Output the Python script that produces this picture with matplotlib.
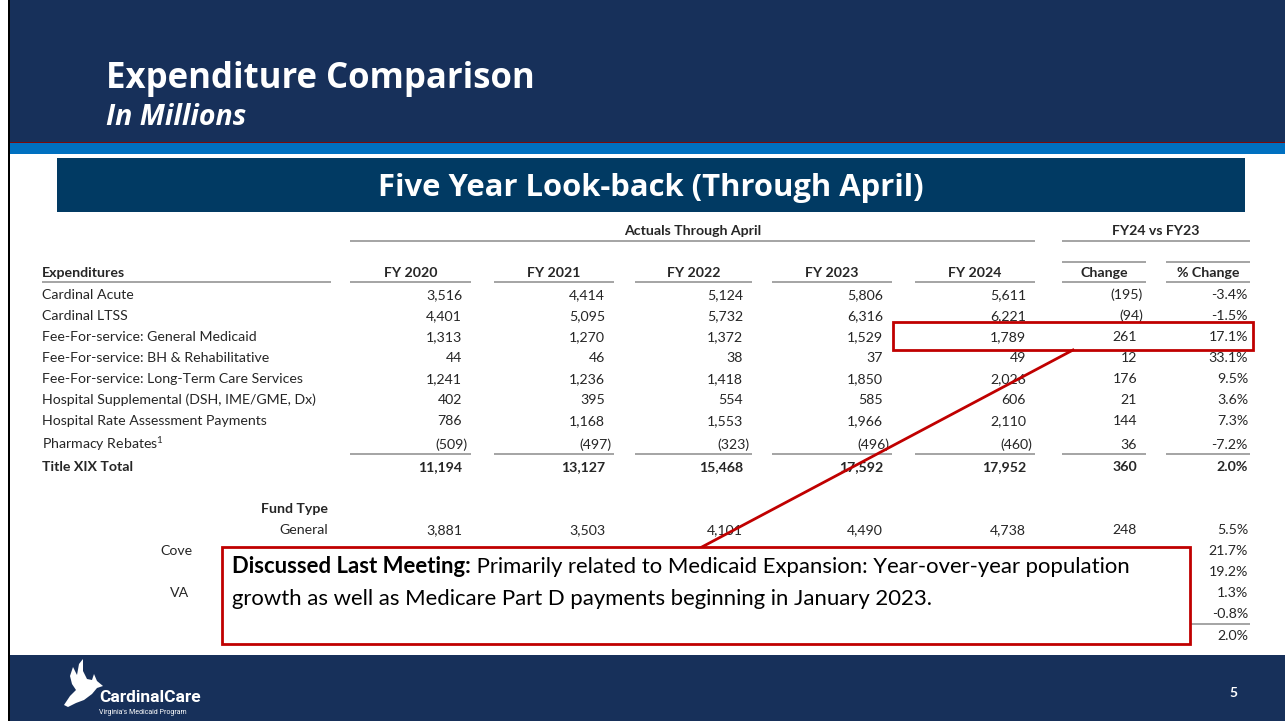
import matplotlib.pyplot as plt
from matplotlib.patches import Rectangle, Polygon

plt.rcParams['font.family'] = ['Lato', 'DejaVu Sans']
plt.rcParams['mathtext.fontset'] = 'custom'
plt.rcParams['mathtext.rm'] = 'Lato'

# ---- table data (millions) ----
categories = ['Cardinal Acute', 'Cardinal LTSS', 'Fee-For-service: General Medicaid',
              'Fee-For-service: BH & Rehabilitative', 'Fee-For-service: Long-Term Care Services',
              'Hospital Supplemental (DSH, IME/GME, Dx)', 'Hospital Rate Assessment Payments',
              'Pharmacy Rebates$^{1}$']
years = ['FY 2020', 'FY 2021', 'FY 2022', 'FY 2023', 'FY 2024']
fy2020 = [3516, 4401, 1313, 44, 1241, 402, 786, -509]
fy2021 = [4414, 5095, 1270, 46, 1236, 395, 1168, -497]
fy2022 = [5124, 5732, 1372, 38, 1418, 554, 1553, -323]
fy2023 = [5806, 6316, 1529, 37, 1850, 585, 1966, -496]
fy2024 = [5611, 6221, 1789, 49, 2026, 606, 2110, -460]
change = [-195, -94, 261, 12, 176, 21, 144, 36]
pct_change = [-3.4, -1.5, 17.1, 33.1, 9.5, 3.6, 7.3, -7.2]
totals = [11194, 13127, 15468, 17592, 17952]
total_change = 360
total_pct = 2.0

fund_general = [3881, 3503, 4101, 4490, 4738]
fund_general_change = 248
fund_pct = [5.5, 21.7, 19.2, 1.3, -0.8]
fund_total_pct = 2.0
# fund labels only partly visible behind the call-out
fund_partial_labels = ['Cove', 'VA']

NAVY = '#17305A'
BOX_NAVY = '#013A63'
RED = '#C00000'
GRAY = '#8C8C8C'
TXT = '#262626'
HEAD = ['Open Sans', 'DejaVu Sans']


def fmt_num(v):
    return f'({abs(v):,})' if v < 0 else f'{v:,}'


fig = plt.figure(figsize=(12.85, 7.21), dpi=100)
ax = fig.add_axes([0, 0, 1, 1])
ax.set_xlim(0, 1285)
ax.set_ylim(721, 0)
ax.axis('off')


def box(x, y, w, h, color, **kw):
    ax.add_patch(Rectangle((x, y), w, h, fc=color, ec='none', **kw))


# slide background, header and footer bands
box(0, 0, 1285, 721, 'white')
box(8, 0, 2, 721, 'black')
box(10, 0, 1275, 142, NAVY)
box(10, 142, 1275, 1.2, '#7A0A0A')
box(10, 143, 1275, 11, '#0070C0')
box(57, 158, 1188, 54, BOX_NAVY)
box(10, 655, 1275, 66, NAVY)

ax.text(106, 88, 'Expenditure Comparison', color='white', fontsize=25, fontweight='bold',
        family=HEAD, va='baseline')
ax.text(106, 125, 'In Millions', color='white', fontsize=20.5, fontweight='bold', style='italic',
        family=HEAD, va='baseline')
ax.text(651, 196, 'Five Year Look-back (Through April)', color='white', fontsize=22.3,
        fontweight='bold', family=HEAD, ha='center', va='baseline')

# ---- table ----
FS = 10.2
col_x0 = [350, 494, 635, 772, 915, 1062, 1166]
col_x1 = [471, 614, 752, 892, 1035, 1146, 1250]


def hline(x0, x1, y, lw=1.1):
    ax.plot([x0, x1], [y, y], color=GRAY, lw=lw, solid_capstyle='butt')


def num(col, y, v, bold=False):
    x = col_x1[col] - (3 if v < 0 else 9)
    ax.text(x, y, fmt_num(v), ha='right', va='baseline', fontsize=FS, color=TXT,
            fontweight='bold' if bold else 'normal')


def pct(y, v, bold=False):
    ax.text(col_x1[6] - 2, y, f'{v:.1f}%', ha='right', va='baseline', fontsize=FS, color=TXT,
            fontweight='bold' if bold else 'normal')


ax.text((col_x0[0] + col_x1[4]) / 2, 235, 'Actuals Through April', ha='center', va='baseline',
        fontsize=FS, fontweight='bold', color=TXT)
ax.text((col_x0[5] + col_x1[6]) / 2, 235, 'FY24 vs FY23', ha='center', va='baseline',
        fontsize=FS, fontweight='bold', color=TXT)
hline(col_x0[0], col_x1[4], 241)
hline(col_x0[5], col_x1[6], 241)
hline(col_x0[5], col_x1[5], 262)
hline(col_x0[6], col_x1[6], 262)

ax.text(42, 277, 'Expenditures', va='baseline', fontsize=FS, fontweight='bold', color=TXT)
hline(42, 331, 282)
for j, lab in enumerate(years + ['Change', '% Change']):
    ax.text((col_x0[j] + col_x1[j]) / 2, 277, lab, ha='center', va='baseline', fontsize=FS,
            fontweight='bold', color=TXT)
    hline(col_x0[j], col_x1[j], 282)

series = [fy2020, fy2021, fy2022, fy2023, fy2024, change]
for i, cat in enumerate(categories):
    y = 299 + 21 * i if i < 7 else 449
    ax.text(42, y, cat, va='baseline', fontsize=FS, color=TXT)
    for j, s in enumerate(series):
        num(j, y, s[i])
    pct(y, pct_change[i])

for j in range(7):
    hline(col_x0[j], col_x1[j], 454)
y_tot = 471
ax.text(42, y_tot, 'Title XIX Total', va='baseline', fontsize=FS, fontweight='bold', color=TXT)
for j, v in enumerate(totals + [total_change]):
    num(j, y_tot, v, bold=True)
pct(y_tot, total_pct, bold=True)

# fund type block (mostly covered by the call-out)
ax.text(328, 513, 'Fund Type', ha='right', va='baseline', fontsize=FS, fontweight='bold', color=TXT)
ax.text(328, 534, 'General', ha='right', va='baseline', fontsize=FS, color=TXT)
for j, v in enumerate(fund_general + [fund_general_change]):
    num(j, 534, v)
ax.text(160, 555, fund_partial_labels[0], va='baseline', fontsize=FS, color=TXT)
ax.text(170, 597, fund_partial_labels[1], va='baseline', fontsize=FS, color=TXT)
for k, v in enumerate(fund_pct):
    pct(534 + 21 * k, v)
hline(1150, col_x1[6], 624)
pct(640, fund_total_pct)

# ---- highlight and call-out ----
ax.add_patch(Rectangle((893, 322), 360, 28, fc='none', ec=RED, lw=2, zorder=4))
ax.plot([1073, 700], [350, 548], color=RED, lw=2, zorder=4)
ax.add_patch(Rectangle((222, 547), 968, 97, fc='white', ec=RED, lw=2, zorder=5))

fig.canvas.draw()
r = fig.canvas.get_renderer()
t1 = ax.text(232, 573, 'Discussed Last Meeting:', fontsize=15.9, fontweight='bold', color='black',
             va='baseline', zorder=6)
bb = t1.get_window_extent(r).transformed(ax.transData.inverted())
ax.text(bb.x1, 573, ' Primarily related to Medicaid Expansion: Year-over-year population',
        fontsize=15.9, color='black', va='baseline', zorder=6)
ax.text(232, 605, 'growth as well as Medicare Part D payments beginning in January 2023.',
        fontsize=15.9, color='black', va='baseline', zorder=6)

# ---- footer logo ----
bird = [(64, 705), (70, 696), (76, 690), (72, 684), (70, 676), (73, 667), (77, 675),
        (79, 664), (83, 659), (83, 671), (87, 679), (92, 680), (94, 674), (97, 681),
        (103, 686), (97, 688), (92, 694), (84, 700), (76, 703), (68, 707)]
ax.add_patch(Polygon(bird, closed=True, fc='white', ec='none'))
ax.text(99, 702, 'CardinalCare', color='white', fontsize=12.5, fontweight='bold',
        family=['Roboto', 'DejaVu Sans'], va='baseline')
ax.text(99, 714, "Virginia's Medicaid Program", color='white', fontsize=5,
        family=['Roboto', 'DejaVu Sans'], va='baseline')
ax.text(1233, 697, '5', color='white', fontsize=10, fontweight='bold', ha='center', va='baseline')

fig.savefig('out.png', dpi=100)
